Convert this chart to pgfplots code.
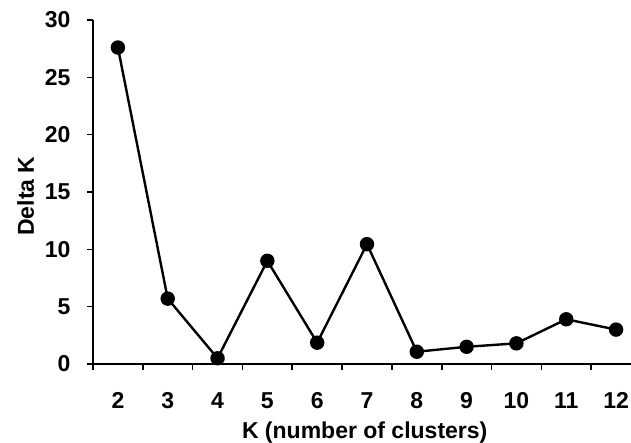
\documentclass[border=0pt]{standalone}
\usepackage{fontspec}
\setmainfont{Liberation Sans}
\usepackage{pgfplots}
\pgfplotsset{compat=1.18}
\begin{document}
\begin{tikzpicture}
\begin{axis}[
  scale only axis,
  width=538pt, height=344pt,
  at={(0,0)}, anchor=south west,
  xmin=1.5, xmax=12.3,
  ymin=0, ymax=30,
  axis lines=left,
  axis line style={-, line width=1.6pt},
  tick align=outside,
  xtick={2,...,12},
  minor xtick={1.5,2.5,...,11.5},
  every major x tick/.style={draw=none},
  ytick={0,5,...,30},
  major tick length=6pt, minor tick length=6pt,
  tick style={line width=1.6pt, black},
  /pgf/number format/assume math mode=true,
  tick label style={font=\fontsize{23}{27}\selectfont\bfseries},
  y tick label style={xshift=-13pt},
  x tick label style={yshift=-19pt},
  xlabel={K (number of clusters)},
  ylabel={Delta K},
  every axis x label/.append style={at={(axis description cs:0.505,-0.2)}, anchor=center, font=\fontsize{23}{27}\selectfont\bfseries},
  every axis y label/.append style={at={(axis description cs:-0.125,0.488)}, anchor=center, font=\fontsize{23}{27}\selectfont\bfseries},
  clip=false,
]
% Delta K for each K
\addplot [color=black, line width=2.4pt, mark=*, mark size=6pt] coordinates {
(2,27.6)
(3,5.7)
(4,0.5)
(5,9.0)
(6,1.86)
(7,10.45)
(8,1.07)
(9,1.5)
(10,1.8)
(11,3.9)
(12,3.0)
};
\end{axis}
\pgfresetboundingbox
\path[use as bounding box] (-93pt,-79pt) rectangle (538pt,364pt);
\end{tikzpicture}
\end{document}
